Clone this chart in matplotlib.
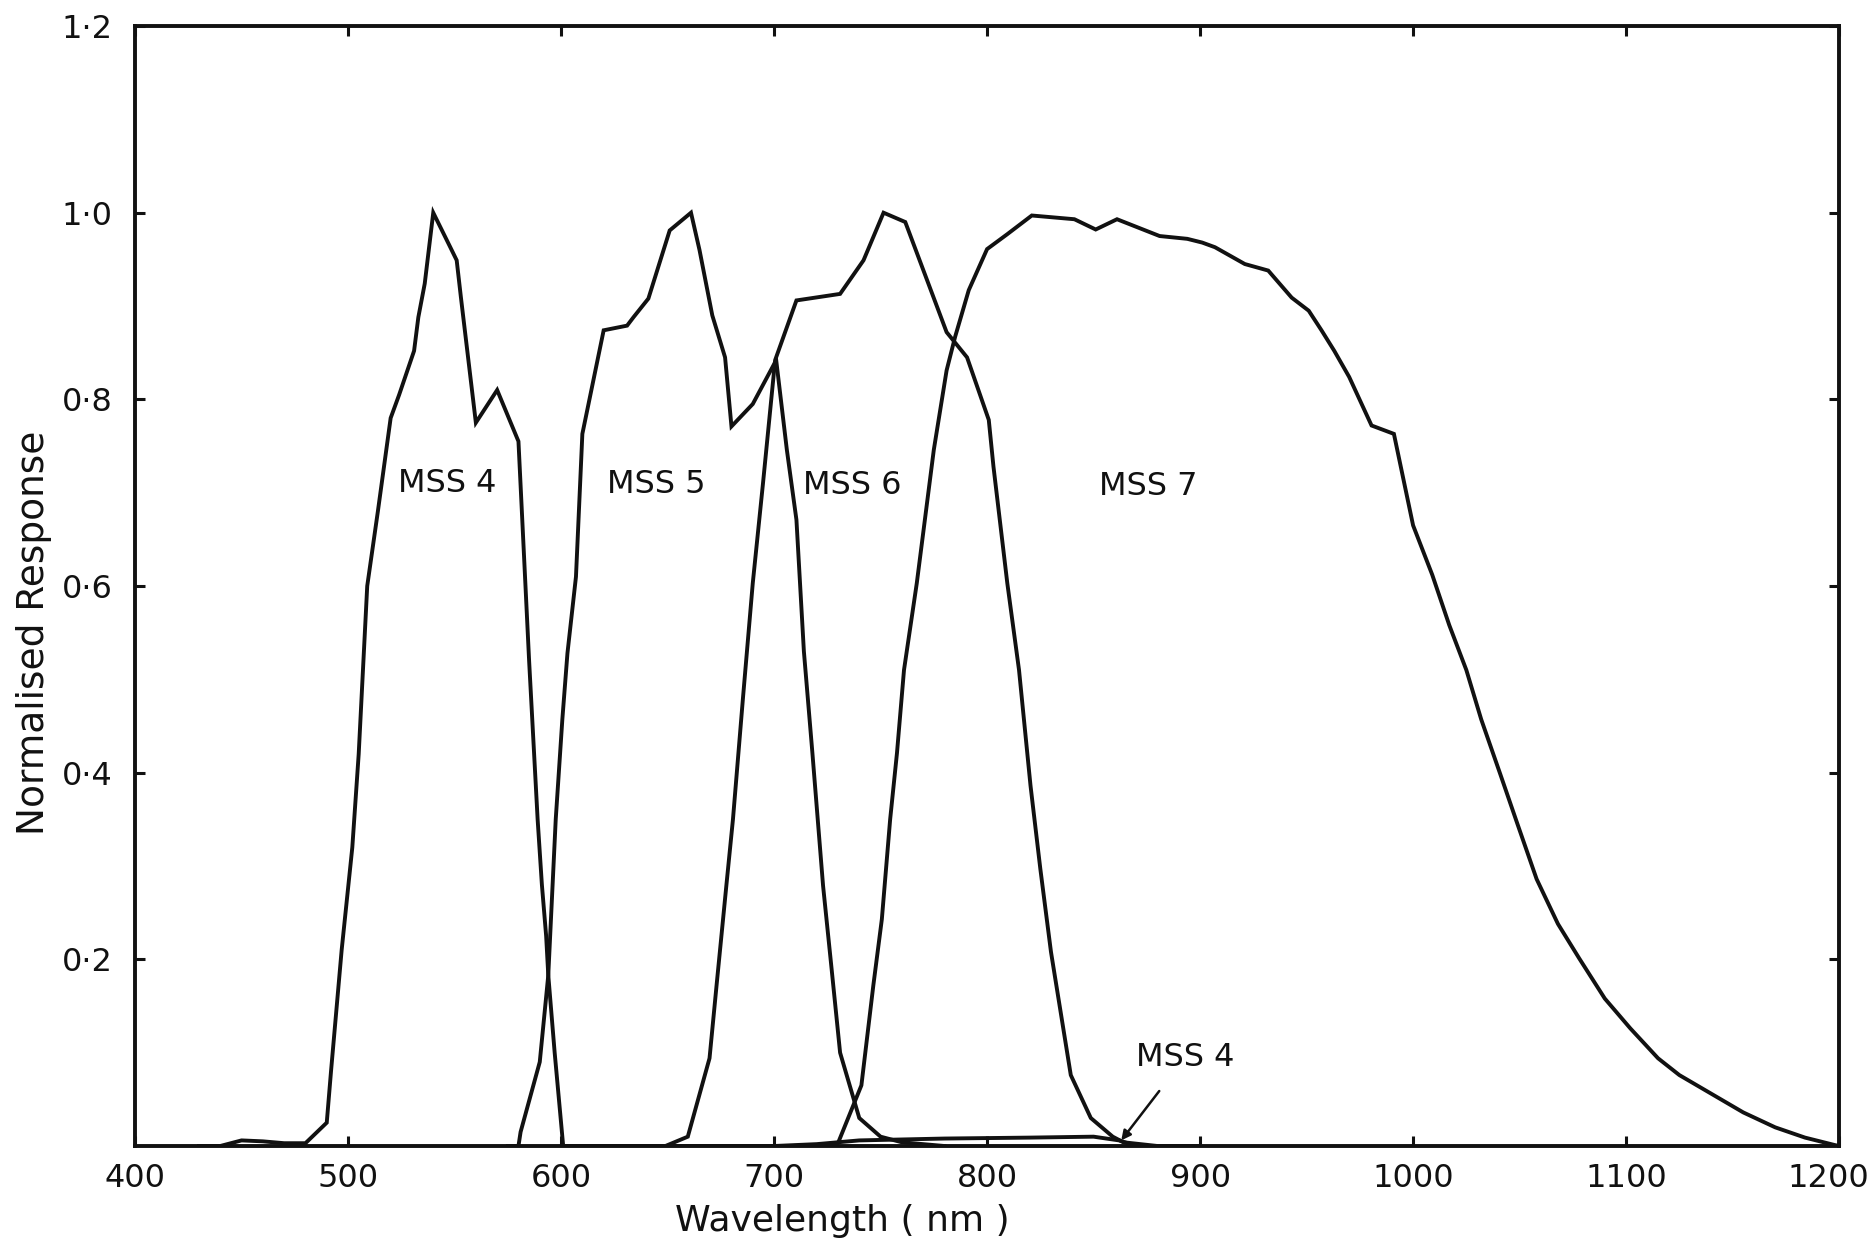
import matplotlib

matplotlib.use("Agg")
import matplotlib.pyplot as plt
from matplotlib.transforms import ScaledTranslation

# Landsat MSS band responses
mss4_nm = [430, 440, 450, 460, 470, 480, 490, 492, 497, 502, 505, 509, 514, 520, 524, 531,
           533, 536, 540, 548, 551, 553, 560, 570, 580, 585, 589, 591, 593, 594, 597, 601,
           700, 720, 740, 780, 820, 850, 862, 870, 900]
mss4_resp = [0.0, 0.0, 0.006, 0.005, 0.003, 0.003, 0.025, 0.08, 0.21, 0.32, 0.42, 0.6, 0.68,
             0.78, 0.805, 0.852, 0.888, 0.924, 1.0, 0.963, 0.949, 0.909, 0.775, 0.81, 0.755,
             0.52, 0.35, 0.28, 0.225, 0.183, 0.1, 0.0,
             0.0, 0.002, 0.006, 0.008, 0.009, 0.01, 0.006, 0.0, 0.0]

mss5_nm = [575, 580, 581, 590, 594, 597.5, 600.6, 603, 607, 610, 620, 631, 634, 641, 651, 661,
           665, 671, 677, 680, 690, 701, 706, 710.5, 714, 718, 723, 727, 731, 740, 750, 760, 780]
mss5_resp = [0.0, 0.0, 0.015, 0.09, 0.183, 0.35, 0.457, 0.528, 0.61, 0.763, 0.874, 0.879,
             0.888, 0.908, 0.981, 1.0, 0.96, 0.89, 0.845, 0.771, 0.795, 0.842, 0.746, 0.671,
             0.53, 0.421, 0.279, 0.19, 0.10, 0.03, 0.01, 0.004, 0.0]

mss6_nm = [640, 649, 659.5, 669.7, 673, 677.6, 680.7, 685.4, 690, 694.8, 700.5, 710.5, 731,
           742, 751.4, 761.6, 781, 790.6, 800.8, 803, 809.5, 815, 820.4, 825, 830, 839.3,
           848.7, 859, 864, 880]
mss6_resp = [0.0, 0.0, 0.01, 0.094, 0.172, 0.279, 0.35, 0.48, 0.603, 0.71, 0.842, 0.906,
             0.913, 0.949, 1.0, 0.99, 0.872, 0.845, 0.778, 0.728, 0.603, 0.51, 0.386, 0.297,
             0.208, 0.076, 0.03, 0.01, 0.004, 0.0]

mss7_nm = [720, 730, 741, 746.6, 750.6, 754.5, 757.7, 761, 767, 775, 781, 785, 791.4, 800,
           809.5, 821, 841, 851, 861, 881, 894, 901, 907, 921, 932, 943, 951, 957, 963, 970,
           980.5, 991, 1000, 1009, 1017, 1025, 1032, 1041, 1049, 1058, 1068, 1078, 1090,
           1102, 1115, 1125, 1143, 1155, 1170, 1184, 1198, 1200]
mss7_resp = [0.0, 0.003, 0.065, 0.172, 0.243, 0.35, 0.421, 0.51, 0.603, 0.746, 0.831, 0.867,
             0.917, 0.961, 0.977, 0.997, 0.993, 0.982, 0.993, 0.975, 0.972, 0.968, 0.963,
             0.945, 0.938, 0.909, 0.895, 0.874, 0.852, 0.824, 0.772, 0.763, 0.665, 0.612,
             0.558, 0.51, 0.457, 0.398, 0.345, 0.286, 0.238, 0.201, 0.158, 0.126, 0.094,
             0.076, 0.052, 0.036, 0.02, 0.009, 0.001, 0.0]

band_labels = ["MSS 4", "MSS 5", "MSS 6", "MSS 7"]
label_nm = [546.7, 644.9, 736.5, 875.7]
label_resp = [0.71, 0.709, 0.708, 0.707]

x_ticks = [400, 500, 600, 700, 800, 900, 1000, 1100, 1200]
y_ticks = [0.2, 0.4, 0.6, 0.8, 1.0, 1.2]
y_tick_labels = ["0·2", "0·4", "0·6", "0·8", "1·0", "1·2"]

LINE = "#111111"


def main() -> None:
    plt.rcParams["font.family"] = ["DejaVu Sans"]
    fig = plt.figure(figsize=(18.73, 12.40), dpi=100)
    ax = fig.add_axes([0.0721, 0.0758, 0.9098, 0.9032])

    series = [(mss4_nm, mss4_resp), (mss5_nm, mss5_resp), (mss6_nm, mss6_resp), (mss7_nm, mss7_resp)]
    for nm, resp in series:
        ax.plot(nm, resp, color=LINE, linewidth=2.8, solid_joinstyle="miter")

    for text, x, y in zip(band_labels, label_nm, label_resp):
        ax.text(x, y, text, ha="center", va="center", fontsize=23, color=LINE)

    # the small secondary lobe of MSS 4
    ax.annotate("MSS 4", xy=(863, 0.006), xytext=(893, 0.095), ha="center", va="center",
                fontsize=23, color=LINE,
                arrowprops=dict(arrowstyle="-|>", color=LINE, lw=1.8, shrinkA=14, shrinkB=0,
                                mutation_scale=14))

    ax.set_xlim(400, 1200)
    ax.set_ylim(0, 1.2)
    ax.set_xticks(x_ticks)
    ax.set_yticks(y_ticks)
    ax.set_yticklabels(y_tick_labels)
    ax.tick_params(axis="both", direction="in", length=7, width=2.2, labelsize=23,
                   top=True, right=True, colors=LINE)
    ax.tick_params(axis="x", pad=12)
    ax.tick_params(axis="y", pad=16)
    for spine in ax.spines.values():
        spine.set_linewidth(2.8)
        spine.set_color(LINE)

    # keep "1200" inside the page, as in the original
    last = ax.get_xticklabels()[-1]
    last.set_transform(last.get_transform() + ScaledTranslation(-8 / 72, 0, fig.dpi_scale_trans))

    ax.set_xlabel("Wavelength ( nm )", fontsize=26, color=LINE, va="center")
    ax.xaxis.set_label_coords(0.415, -0.067)
    ax.set_ylabel("Normalised Response", fontsize=27, color=LINE)
    ax.yaxis.set_label_coords(-0.049, 0.458)

    fig.savefig("out.png", dpi=100)
    print("Saved plot to: out.png")


if __name__ == "__main__":
    main()
